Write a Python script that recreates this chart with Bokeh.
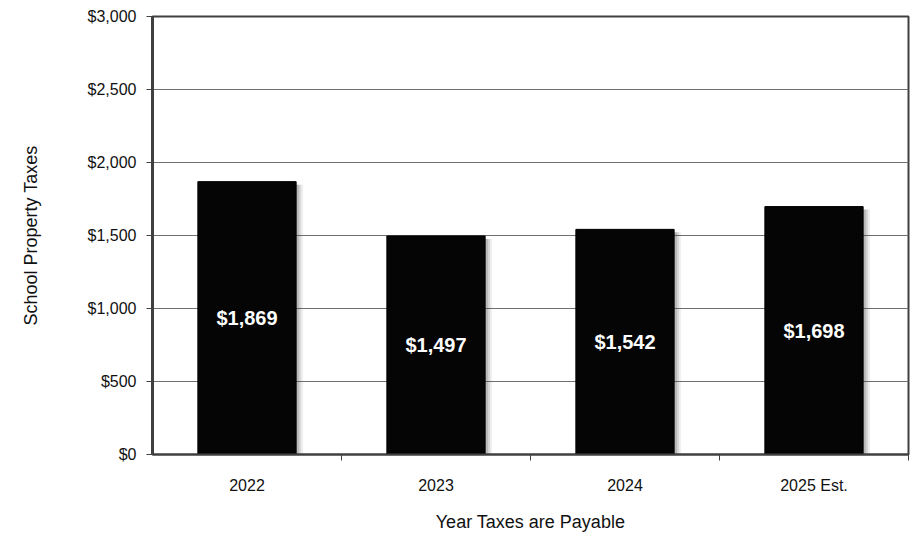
from bokeh.plotting import figure
from bokeh.models import (ColumnDataSource, FixedTicker, NumeralTickFormatter,
                          Range1d, LinearAxis, Grid)
from bokeh.core.properties import value
from bokeh.embed import file_html
from bokeh.resources import INLINE

categories = ["2022", "2023", "2024", "2025 Est."]
taxes = [1869, 1497, 1542, 1698]
labels = ["$1,869", "$1,497", "$1,542", "$1,698"]
y_ticks = [0, 500, 1000, 1500, 2000, 2500, 3000]

FONT = "Liberation Sans"

xs = [i + 0.5 for i in range(len(categories))]
src = ColumnDataSource(dict(x=xs, top=taxes, mid=[t / 2 for t in taxes], label=labels))

p = figure(frame_width=756, frame_height=438, output_backend="svg", toolbar_location=None,
           x_range=Range1d(0, len(categories)), y_range=Range1d(0, 3000),
           min_border_left=152, min_border_right=7, min_border_top=16,
           min_border_bottom=80, x_axis_type=None, y_axis_type=None)
p.outline_line_color = "#404040"
p.outline_line_width = 2

# shadows
px = len(categories) / 756.0
py = 3000 / 438.0
for k, a in [(7, 0.08), (5, 0.14), (3, 0.2)]:
    p.vbar(x=[v + k * px for v in xs], top=[t - 3 * py for t in taxes], bottom=0,
           width=0.52, fill_color="#444444", fill_alpha=a, line_color=None)

p.vbar(x="x", top="top", bottom=0, width=0.52, source=src,
       fill_color="#050505", line_color="#000000", line_width=1)

p.text(x="x", y="mid", text="label", source=src, text_color="white",
       text_font=value(FONT), text_font_style="bold", text_font_size="20px",
       text_align="center", text_baseline="middle")

yaxis = LinearAxis(ticker=FixedTicker(ticks=y_ticks),
                   formatter=NumeralTickFormatter(format="$0,0"),
                   axis_label="School Property Taxes")
yaxis.axis_line_color = "#404040"
yaxis.axis_line_width = 3
yaxis.major_tick_out = 6
yaxis.major_tick_in = 0
yaxis.major_tick_line_color = "#404040"
yaxis.minor_tick_line_color = None
yaxis.major_label_text_font = FONT
yaxis.major_label_text_font_size = "16px"
yaxis.major_label_text_color = "#111111"
yaxis.major_label_standoff = 10
yaxis.axis_label_text_font = FONT
yaxis.axis_label_text_font_size = "18px"
yaxis.axis_label_text_font_style = "normal"
yaxis.axis_label_text_color = "#111111"
yaxis.axis_label_standoff = 44
p.add_layout(yaxis, "left")

xaxis = LinearAxis(ticker=FixedTicker(ticks=xs, minor_ticks=[1, 2, 3, 4]),
                   axis_label="Year Taxes are Payable")
xaxis.major_label_overrides = {x: c for x, c in zip(xs, categories)}
xaxis.axis_line_color = "#404040"
xaxis.axis_line_width = 2
xaxis.major_tick_out = 0
xaxis.major_tick_in = 0
xaxis.minor_tick_out = 6
xaxis.minor_tick_in = 0
xaxis.minor_tick_line_color = "#404040"
xaxis.major_label_text_font = FONT
xaxis.major_label_text_font_size = "16px"
xaxis.major_label_text_color = "#111111"
xaxis.major_label_standoff = 16
xaxis.axis_label_text_font = FONT
xaxis.axis_label_text_font_size = "18px"
xaxis.axis_label_text_font_style = "normal"
xaxis.axis_label_text_color = "#111111"
xaxis.axis_label_standoff = 15
p.add_layout(xaxis, "below")

p.add_layout(Grid(dimension=1, ticker=yaxis.ticker, grid_line_color="#707070",
                  grid_line_width=1), "center")
open("out.html", "w").write(file_html(p, INLINE))
